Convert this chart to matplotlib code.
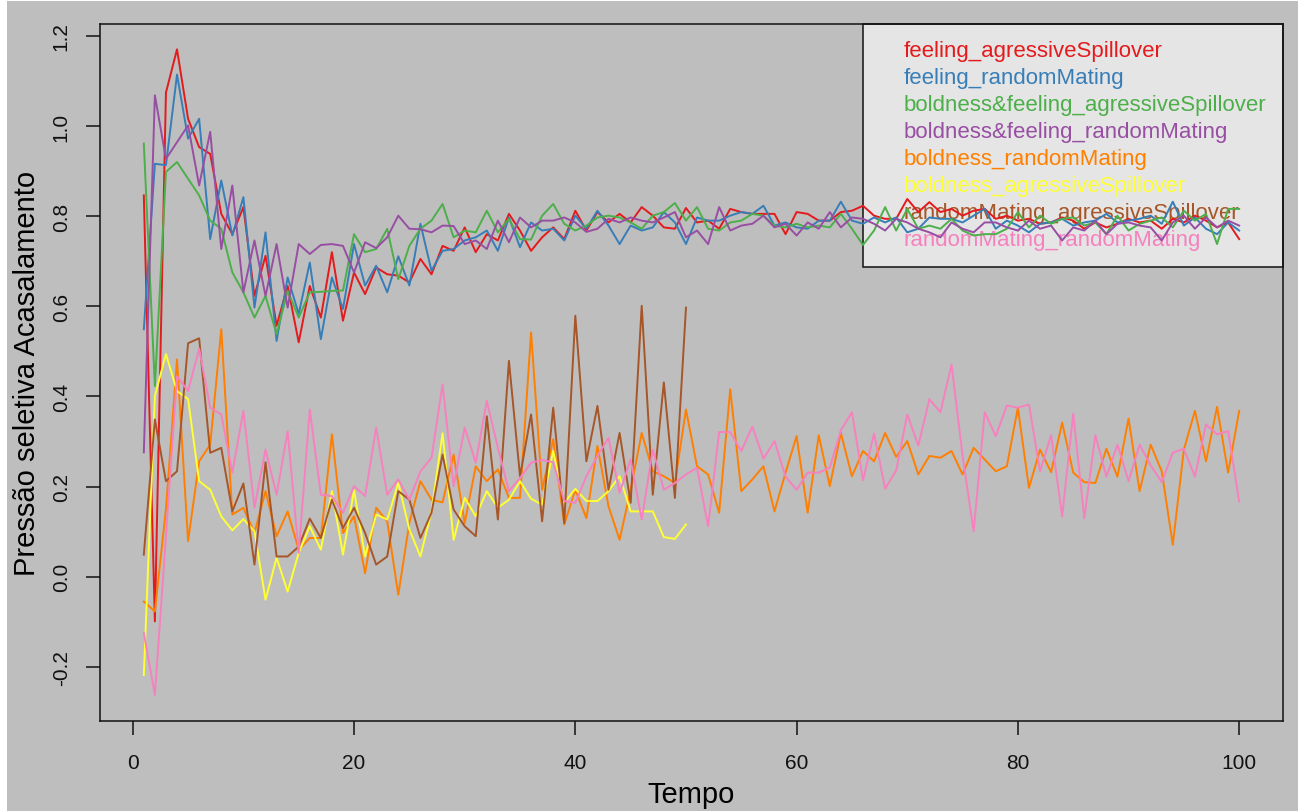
import matplotlib
matplotlib.use("Agg")
import matplotlib.pyplot as plt
from matplotlib.patches import Rectangle
import numpy as np

plt.rcParams['font.family'] = ['Liberation Sans', 'DejaVu Sans']
plt.rcParams['axes.unicode_minus'] = False

# selection pressure per time step for each scenario
feeling_agressiveSpillover = [
    0.846, -0.099, 1.074, 1.170, 1.016, 0.953, 0.938, 0.805, 0.760, 0.820,
    0.623, 0.712, 0.557, 0.645, 0.520, 0.645, 0.575, 0.720, 0.568, 0.675,
    0.627, 0.686, 0.671, 0.668, 0.653, 0.705, 0.671, 0.734, 0.723, 0.775,
    0.720, 0.760, 0.746, 0.805, 0.768, 0.723, 0.753, 0.775, 0.749, 0.812,
    0.768, 0.809, 0.786, 0.805, 0.786, 0.820, 0.801, 0.775, 0.772, 0.818,
    0.786, 0.790, 0.772, 0.816, 0.809, 0.805, 0.805, 0.805, 0.760, 0.809,
    0.805, 0.790, 0.790, 0.809, 0.812, 0.823, 0.801, 0.794, 0.794, 0.838,
    0.809, 0.831, 0.809, 0.816, 0.801, 0.812, 0.816, 0.794, 0.801, 0.790,
    0.794, 0.783, 0.786, 0.797, 0.790, 0.772, 0.786, 0.775, 0.783, 0.794,
    0.786, 0.790, 0.772, 0.794, 0.786, 0.801, 0.790, 0.775, 0.786, 0.749]

feeling_randomMating = [
    0.549, 0.916, 0.913, 1.114, 0.972, 1.016, 0.749, 0.879, 0.757, 0.842,
    0.597, 0.764, 0.523, 0.664, 0.583, 0.697, 0.527, 0.664, 0.594, 0.738,
    0.646, 0.690, 0.631, 0.711, 0.646, 0.783, 0.679, 0.723, 0.727, 0.746,
    0.753, 0.768, 0.723, 0.797, 0.731, 0.786, 0.768, 0.772, 0.746, 0.801,
    0.772, 0.812, 0.779, 0.738, 0.779, 0.768, 0.775, 0.809, 0.786, 0.738,
    0.797, 0.790, 0.790, 0.801, 0.809, 0.805, 0.823, 0.779, 0.786, 0.775,
    0.772, 0.790, 0.790, 0.832, 0.790, 0.783, 0.797, 0.786, 0.797, 0.764,
    0.772, 0.797, 0.794, 0.794, 0.786, 0.801, 0.816, 0.772, 0.790, 0.779,
    0.764, 0.783, 0.786, 0.794, 0.779, 0.786, 0.790, 0.805, 0.786, 0.790,
    0.794, 0.801, 0.783, 0.832, 0.779, 0.797, 0.772, 0.760, 0.786, 0.768]

boldness_feeling_agressiveSpillover = [
    0.961, 0.423, 0.898, 0.920, 0.883, 0.846, 0.790, 0.772, 0.675, 0.631,
    0.575, 0.623, 0.538, 0.634, 0.575, 0.631, 0.632, 0.634, 0.635, 0.760,
    0.720, 0.727, 0.772, 0.660, 0.734, 0.772, 0.790, 0.827, 0.753, 0.768,
    0.764, 0.812, 0.764, 0.794, 0.749, 0.748, 0.801, 0.827, 0.783, 0.768,
    0.779, 0.797, 0.801, 0.797, 0.786, 0.772, 0.801, 0.809, 0.829, 0.790,
    0.820, 0.772, 0.768, 0.786, 0.790, 0.805, 0.801, 0.779, 0.775, 0.783,
    0.775, 0.779, 0.775, 0.805, 0.772, 0.736, 0.768, 0.820, 0.768, 0.816,
    0.772, 0.779, 0.772, 0.794, 0.768, 0.757, 0.760, 0.760, 0.772, 0.809,
    0.775, 0.801, 0.783, 0.794, 0.797, 0.779, 0.786, 0.760, 0.801, 0.768,
    0.783, 0.790, 0.797, 0.775, 0.812, 0.790, 0.805, 0.738, 0.816, 0.816]

boldness_feeling_randomMating = [
    0.276, 1.068, 0.927, 0.964, 1.001, 0.868, 0.987, 0.727, 0.868, 0.631,
    0.746, 0.623, 0.738, 0.597, 0.738, 0.716, 0.736, 0.738, 0.734, 0.675,
    0.742, 0.729, 0.753, 0.801, 0.772, 0.771, 0.764, 0.779, 0.778, 0.738,
    0.746, 0.727, 0.790, 0.742, 0.797, 0.775, 0.790, 0.790, 0.797, 0.786,
    0.765, 0.772, 0.794, 0.786, 0.797, 0.790, 0.786, 0.797, 0.809, 0.753,
    0.768, 0.738, 0.820, 0.768, 0.779, 0.783, 0.801, 0.775, 0.783, 0.757,
    0.786, 0.772, 0.809, 0.775, 0.797, 0.794, 0.783, 0.768, 0.794, 0.786,
    0.772, 0.764, 0.753, 0.786, 0.772, 0.764, 0.786, 0.786, 0.775, 0.768,
    0.790, 0.772, 0.779, 0.746, 0.775, 0.768, 0.790, 0.760, 0.783, 0.786,
    0.779, 0.775, 0.746, 0.786, 0.801, 0.772, 0.797, 0.775, 0.790, 0.779]

boldness_randomMating = [
    -0.055, -0.077, 0.150, 0.482, 0.079, 0.256, 0.293, 0.549, 0.138, 0.153,
    0.097, 0.190, 0.090, 0.145, 0.060, 0.086, 0.086, 0.316, 0.097, 0.134,
    0.008, 0.153, 0.123, -0.040, 0.120, 0.212, 0.171, 0.165, 0.271, 0.119,
    0.245, 0.212, 0.238, 0.175, 0.175, 0.542, 0.193, 0.305, 0.116, 0.193,
    0.130, 0.290, 0.156, 0.082, 0.193, 0.319, 0.234, 0.223, 0.208, 0.371,
    0.245, 0.227, 0.142, 0.416, 0.190, 0.216, 0.245, 0.145, 0.231, 0.312,
    0.142, 0.314, 0.201, 0.319, 0.223, 0.279, 0.256, 0.319, 0.266, 0.301,
    0.227, 0.268, 0.264, 0.279, 0.227, 0.286, 0.260, 0.234, 0.245, 0.375,
    0.197, 0.282, 0.232, 0.342, 0.231, 0.210, 0.208, 0.284, 0.222, 0.351,
    0.190, 0.293, 0.234, 0.071, 0.282, 0.368, 0.256, 0.377, 0.231, 0.368]

boldness_agressiveSpillover = [
    -0.218, 0.401, 0.494, 0.412, 0.394, 0.212, 0.193, 0.134, 0.103, 0.128,
    0.101, -0.051, 0.042, -0.033, 0.053, 0.112, 0.060, 0.190, 0.049, 0.192,
    0.045, 0.138, 0.127, 0.208, 0.105, 0.045, 0.145, 0.318, 0.082, 0.175,
    0.134, 0.190, 0.153, 0.171, 0.212, 0.173, 0.160, 0.279, 0.164, 0.195,
    0.168, 0.168, 0.190, 0.223, 0.145, 0.145, 0.145, 0.088, 0.084, 0.116]

randomMating_agressiveSpillover = [
    0.049, 0.349, 0.212, 0.234, 0.518, 0.529, 0.275, 0.286, 0.145, 0.207,
    0.027, 0.254, 0.045, 0.045, 0.067, 0.129, 0.086, 0.171, 0.108, 0.153,
    0.097, 0.027, 0.045, 0.190, 0.171, 0.086, 0.142, 0.271, 0.149, 0.112,
    0.090, 0.356, 0.127, 0.479, 0.223, 0.360, 0.123, 0.375, 0.119, 0.579,
    0.256, 0.379, 0.193, 0.319, 0.164, 0.601, 0.182, 0.431, 0.175, 0.597]

randomMating_randomMating = [
    -0.125, -0.262, 0.090, 0.445, 0.412, 0.506, 0.375, 0.360, 0.231, 0.368,
    0.153, 0.282, 0.182, 0.323, 0.053, 0.371, 0.182, 0.179, 0.142, 0.201,
    0.179, 0.331, 0.182, 0.216, 0.171, 0.234, 0.264, 0.427, 0.201, 0.331,
    0.253, 0.390, 0.286, 0.190, 0.219, 0.253, 0.259, 0.254, 0.168, 0.164,
    0.223, 0.268, 0.308, 0.186, 0.260, 0.127, 0.282, 0.193, 0.208, 0.227,
    0.242, 0.112, 0.321, 0.321, 0.279, 0.333, 0.262, 0.301, 0.222, 0.193,
    0.231, 0.231, 0.242, 0.325, 0.365, 0.214, 0.318, 0.195, 0.236, 0.360,
    0.291, 0.394, 0.365, 0.471, 0.268, 0.101, 0.365, 0.312, 0.380, 0.375,
    0.382, 0.234, 0.314, 0.134, 0.362, 0.130, 0.314, 0.222, 0.293, 0.212,
    0.293, 0.247, 0.210, 0.275, 0.284, 0.222, 0.338, 0.316, 0.323, 0.167]

labels = ['feeling_agressiveSpillover', 'feeling_randomMating',
          'boldness&feeling_agressiveSpillover', 'boldness&feeling_randomMating',
          'boldness_randomMating', 'boldness_agressiveSpillover',
          'randomMating_agressiveSpillover', 'randomMating_randomMating']
series = [feeling_agressiveSpillover, feeling_randomMating,
          boldness_feeling_agressiveSpillover, boldness_feeling_randomMating,
          boldness_randomMating, boldness_agressiveSpillover,
          randomMating_agressiveSpillover, randomMating_randomMating]
# Set1 palette
colors = ['#E41A1C', '#377EB8', '#4DAF4A', '#984EA3',
          '#FF7F00', '#FFFF33', '#A65628', '#F781BF']

x_ticks = [0, 20, 40, 60, 80, 100]
y_ticks = [-0.2, 0.0, 0.2, 0.4, 0.6, 0.8, 1.0, 1.2]
y_tick_labels = ['-0.2', '0.0', '0.2', '0.4', '0.6', '0.8', '1.0', '1.2']

bg = '#BEBEBE'
fig = plt.figure(figsize=(12.98, 8.12), dpi=100)
fig.patch.set_facecolor('white')
fig.patches.append(Rectangle((7 / 1298, 0), 1, 1 - 2 / 812, transform=fig.transFigure,
                             facecolor=bg, edgecolor='none', zorder=-10))

ax = fig.add_axes([100 / 1298, 1 - 721.7 / 812, 1183 / 1298, 697.2 / 812])
ax.set_facecolor(bg)

for vals, lab, col in zip(series, labels, colors):
    t = np.arange(1, len(vals) + 1)
    ax.plot(t, vals, color=col, lw=1.4, label=lab, zorder=3)

# R-style 4% padding around the data range
allv = np.concatenate([np.asarray(s) for s in series])
lo, hi = allv.min(), allv.max()
pad = 0.04 * (hi - lo)
ax.set_ylim(lo - pad, hi + pad)
ax.set_xlim(1 - 0.04 * 99, 100 + 0.04 * 99)

ax.set_xticks(x_ticks)
ax.set_yticks(y_ticks)
ax.set_yticklabels(y_tick_labels, rotation=90, va='center')
ax.tick_params(direction='out', length=10, width=1.1, labelsize=15, colors='#111111')
ax.tick_params(axis='x', pad=13)
ax.tick_params(axis='y', pad=11)
for sp in ax.spines.values():
    sp.set_linewidth(1.1)
    sp.set_color('#111111')

ax.set_xlabel('Tempo', fontsize=21, labelpad=6)
ax.set_ylabel('Pressão seletiva Acasalamento', fontsize=21, labelpad=8)

leg = ax.legend(loc='upper right', borderaxespad=0, fontsize=16, handlelength=0.7,
                handletextpad=0.4, borderpad=0.75, labelspacing=0.27,
                frameon=True, fancybox=False, facecolor='#E5E5E5', framealpha=1,
                edgecolor='#111111')
leg.get_frame().set_linewidth(1.1)
for h in leg.legend_handles:
    h.set_visible(False)
for txt, col in zip(leg.get_texts(), colors):
    txt.set_color(col)
leg.set_zorder(2)

fig.savefig('out.png', dpi=100, facecolor=fig.get_facecolor())
